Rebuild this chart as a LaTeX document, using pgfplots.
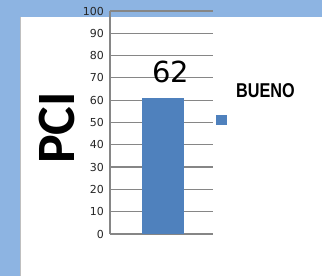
\documentclass[border=0pt]{standalone}
\usepackage{fontspec}
\setmainfont{Carlito}
\newfontfamily\dejavu{DejaVu Sans}
\newfontfamily\libsans{Liberation Sans}
\usepackage{pgfplots}
\pgfplotsset{compat=1.18}
\definecolor{bgblue}{HTML}{8DB4E2}
\definecolor{barblue}{HTML}{4F81BD}
\definecolor{gridgray}{HTML}{868686}
\begin{document}
\begin{tikzpicture}[x=1pt,y=1pt]
\fill[bgblue] (0,0) rectangle (322,276);
\fill[white] (20,0) rectangle (322,259);
\draw[black!25, line width=0.8pt] (20.4,0) -- (20.4,259);
\begin{axis}[
  at={(110pt,42pt)}, anchor=south west,
  width=103pt, height=223pt, scale only axis,
  xmin=0, xmax=103, ymin=0, ymax=100,
  axis x line=none, axis y line=left,
  y axis line style={-, draw=gridgray, line width=1.2pt},
  ytick={0,10,...,100}, major tick length=0pt,
  ymajorgrids, grid style={draw=gridgray, line width=1.2pt},
  yticklabel style={font=\dejavu\fontsize{11}{11}\selectfont, text=black!85, xshift=-2.5pt},
  /pgf/number format/assume math mode=true,
  ybar, bar width=42pt,
  clip=false,
  legend style={draw=none, fill=none, inner sep=0pt, outer sep=0pt,
    at={(axis cs:106,51.1)}, anchor=west,
    nodes={inner sep=0pt}},
  legend image code/.code={\fill[barblue] (0pt,-5pt) rectangle (11pt,5pt);},
]
\addplot[fill=barblue, draw=none, nodes near coords, point meta=explicit symbolic,
  every node near coord/.append style={font=\dejavu\fontsize{29}{29}\selectfont, text=black, anchor=south, inner sep=0pt, xshift=8pt, yshift=15pt}]
  coordinates {(53,61) [62]};
\addlegendentry{}
\end{axis}
\node[anchor=base west, inner sep=0pt, font=\libsans\bfseries\fontsize{20}{20}\selectfont] at (236,178.3) {\scalebox{0.81}[1]{BUENO}};
\node[rotate=90, font=\fontsize{54}{54}\selectfont\bfseries, inner sep=0pt] at (57,148) {PCI};
\pgfresetboundingbox
\useasboundingbox (0,0) rectangle (322,276);
\end{tikzpicture}
\end{document}
